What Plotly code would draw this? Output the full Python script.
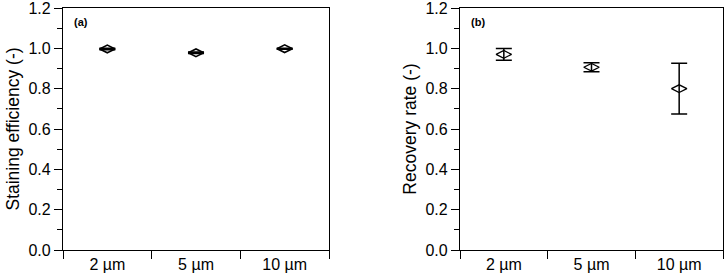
import plotly.graph_objects as go

# data
sizes = ["2 µm", "5 µm", "10 µm"]
staining = [0.997, 0.978, 0.998]
staining_err = [0.004, 0.004, 0.003]
recovery = [0.970, 0.906, 0.800]
recovery_err = [0.029, 0.022, 0.126]

y_ticks = [0.0, 0.2, 0.4, 0.6, 0.8, 1.0, 1.2]
font = "Liberation Sans, Arial, sans-serif"

fig = go.Figure()

fig.add_trace(go.Scatter(
    x=sizes, y=staining, mode="markers",
    marker=dict(symbol="diamond-wide-open", size=11, color="black",
                line=dict(width=1.6, color="black")),
    error_y=dict(type="data", array=staining_err, color="black",
                 thickness=1.5, width=8),
    xaxis="x", yaxis="y", showlegend=False,
))
fig.add_trace(go.Scatter(
    x=sizes, y=recovery, mode="markers",
    marker=dict(symbol="diamond-wide-open", size=11, color="black",
                line=dict(width=1.3, color="black")),
    error_y=dict(type="data", array=recovery_err, color="black",
                 thickness=1.5, width=8),
    xaxis="x2", yaxis="y2", showlegend=False,
))

xcommon = dict(
    type="category", categoryorder="array", categoryarray=sizes,
    range=[-0.5, 2.5], tickson="boundaries", ticks="outside", ticklen=8,
    tickwidth=1.3, tickcolor="black", showline=True, linecolor="black",
    linewidth=1.3, mirror=True, showgrid=False, zeroline=False,
    automargin=False, ticklabeloverflow="allow",
    tickfont=dict(size=16, color="black", family=font),
)
ycommon = dict(
    range=[0, 1.2], tickvals=y_ticks, tickformat=".1f",
    ticks="outside", ticklen=8, tickwidth=1.3, tickcolor="black",
    showline=True, linecolor="black", linewidth=1.3, mirror=True,
    showgrid=False, zeroline=False, automargin=False,
    ticklabeloverflow="allow",
    tickfont=dict(size=16, color="black", family=font),
    minor=dict(dtick=0.1, ticks="outside", ticklen=5, tickwidth=1.3,
               tickcolor="black", showgrid=False),
)

fig.update_layout(
    width=728, height=279,
    margin=dict(l=0, r=0, t=0, b=0),
    plot_bgcolor="white", paper_bgcolor="white",
    font=dict(family=font, color="black"),
    xaxis=dict(domain=[63 / 728, 329 / 728], anchor="y", **xcommon),
    xaxis2=dict(domain=[460 / 728, 723 / 728], anchor="y2", **xcommon),
    yaxis=dict(domain=[29 / 279, 271 / 279], anchor="x",
               title=dict(text="Staining efficiency (-)", standoff=4,
                          font=dict(size=17.5, family=font)),
               **ycommon),
    yaxis2=dict(domain=[29 / 279, 271 / 279], anchor="x2",
                title=dict(text="Recovery rate (-)", standoff=4,
                           font=dict(size=17.5, family=font)),
                **ycommon),
    annotations=[
        dict(text="<b>(a)</b>", x=0.035, y=0.975, xref="x domain",
             yref="y domain", xanchor="left", yanchor="top",
             showarrow=False, font=dict(size=11, family=font)),
        dict(text="<b>(b)</b>", x=0.035, y=0.975, xref="x2 domain",
             yref="y2 domain", xanchor="left", yanchor="top",
             showarrow=False, font=dict(size=11, family=font)),
    ],
)

# page body has an 8px default margin; drop it so the figure sits at 0,0
fig.write_html("out.html", config={"displayModeBar": False},
               post_script="document.body.style.margin='0';")
